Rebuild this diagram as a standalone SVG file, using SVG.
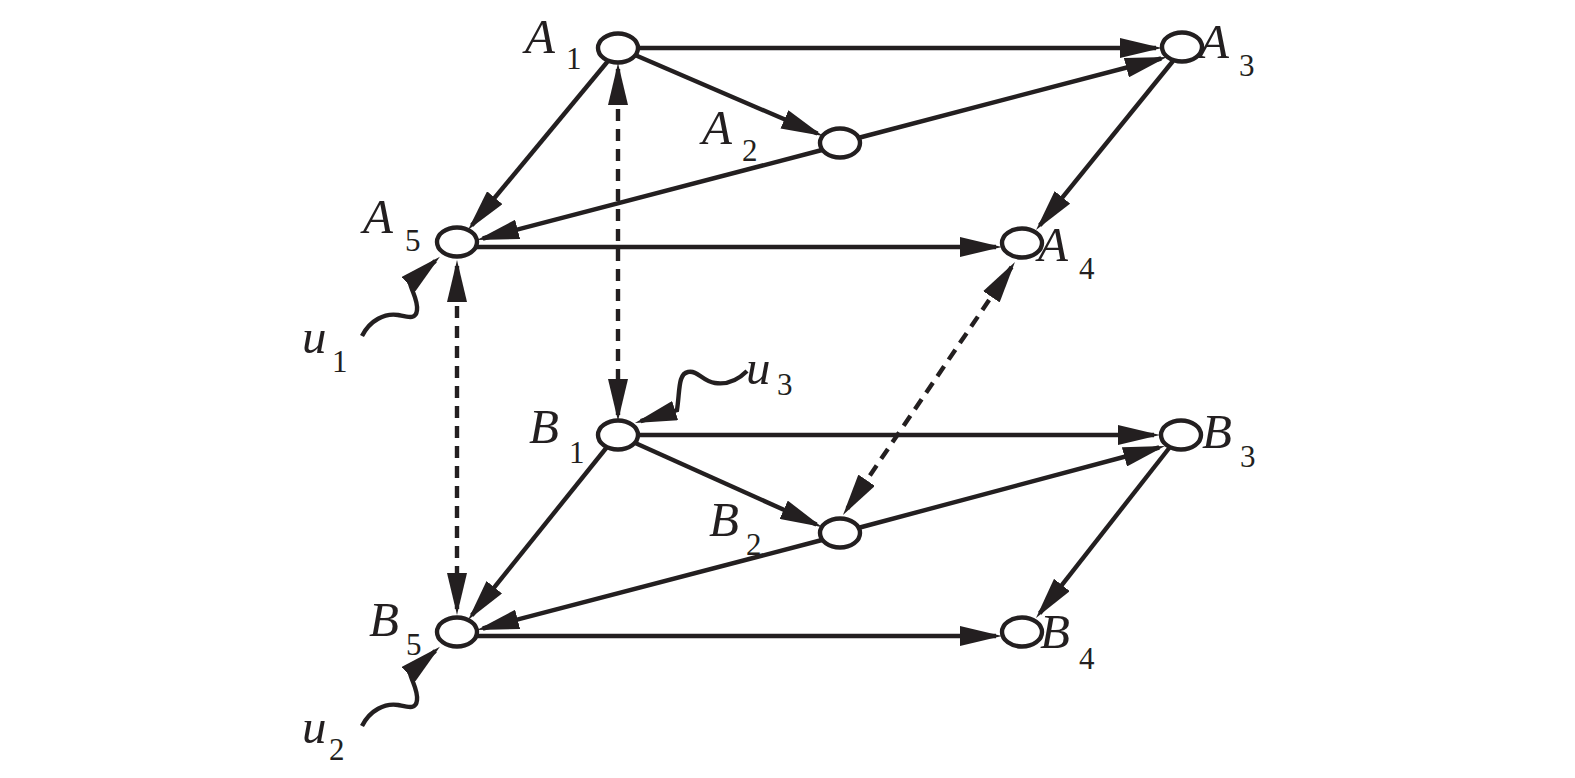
<svg xmlns="http://www.w3.org/2000/svg" width="1575" height="778" viewBox="0 0 1575 778">
<defs>
<marker id="ah" viewBox="0 0 42 20" refX="36" refY="10" markerWidth="42" markerHeight="20" markerUnits="userSpaceOnUse" orient="auto-start-reverse">
<path d="M0,0 L42,10 L0,20 z" fill="#231f20"/>
</marker>
</defs>
<style>
.e{fill:none;stroke:#231f20;stroke-width:4.4;marker-end:url(#ah)}
.d{fill:none;stroke:#231f20;stroke-width:4.4;stroke-dasharray:12 8;marker-start:url(#ah);marker-end:url(#ah)}
.n{fill:#fff;stroke:#231f20;stroke-width:4.4}
.l{font-family:"Liberation Serif","Times New Roman",serif;font-style:italic;font-size:49px;fill:#231f20}
.s{font-family:"Liberation Serif","Times New Roman",serif;font-size:31px;fill:#231f20}
</style>
<rect width="1575" height="778" fill="#fff"/>
<g id="connectors">
<path class="e" d="M638,48 L1156,48"/>
<path class="e" d="M635,55 L817.5,133.6"/>
<path class="e" d="M858,138 L1161.2,58.5"/>
<path class="e" d="M608,61 L471.8,225.4"/>
<path class="e" d="M822,150 L482.8,238.5"/>
<path class="e" d="M1173,61 L1039.8,225.3"/>
<path class="e" d="M477,247 L996,247"/>
<path class="d" d="M618,69 L618,415"/>
<path class="d" d="M457,266 L457,609"/>
<path class="d" d="M1011.6,267 L846.4,510"/>
<path class="e" d="M638,435 L1154,435"/>
<path class="e" d="M633,442 L816.5,524.5"/>
<path class="e" d="M858,528 L1159.2,447.5"/>
<path class="e" d="M607,447 L471.8,615.3"/>
<path class="e" d="M822,540 L482.8,628.5"/>
<path class="e" d="M1170,447 L1039.7,613.3"/>
<path class="e" d="M477,636 L996,636"/>
<path class="e" d="M362,336 C370,320 385,313 398,315 C408,317 416,320 417,310 C418,300 412,292 410,283 L435.4,260.8"/>
<path class="e" d="M362,726 C370,710 385,703 398,705 C408,707 416,710 417,700 C418,690 412,682 410,673 L435.4,650.8"/>
<path class="e" d="M747,371 C738,380 728,385 715,383 C702,381 698,370 688,372 C678,374 680,390 677,410 L640.7,421.2"/>
</g>
<g id="A1"><ellipse class="n" cx="618" cy="48" rx="20" ry="14.5"/><text class="l" x="525" y="53">A</text><text class="s" x="566" y="69">1</text></g>
<g id="A2"><ellipse class="n" cx="840" cy="143" rx="20" ry="14.5"/><text class="l" x="702" y="144">A</text><text class="s" x="742" y="161">2</text></g>
<g id="A3"><ellipse class="n" cx="1182" cy="47" rx="20" ry="14.5"/><text class="l" x="1199" y="58">A</text><text class="s" x="1239" y="76">3</text></g>
<g id="A4"><ellipse class="n" cx="1022" cy="243" rx="20" ry="14.5"/><text class="l" x="1038" y="261">A</text><text class="s" x="1079" y="279">4</text></g>
<g id="A5"><ellipse class="n" cx="457" cy="242" rx="20" ry="14.5"/><text class="l" x="363" y="233">A</text><text class="s" x="405" y="251">5</text></g>
<g id="B1"><ellipse class="n" cx="618" cy="435" rx="20" ry="14.5"/><text class="l" x="529" y="443">B</text><text class="s" x="569" y="463">1</text></g>
<g id="B2"><ellipse class="n" cx="840" cy="533" rx="20" ry="14.5"/><text class="l" x="709" y="536">B</text><text class="s" x="746" y="555">2</text></g>
<g id="B3"><ellipse class="n" cx="1181" cy="435" rx="20" ry="14.5"/><text class="l" x="1202" y="448">B</text><text class="s" x="1240" y="467">3</text></g>
<g id="B4"><ellipse class="n" cx="1022" cy="632" rx="20" ry="14.5"/><text class="l" x="1040" y="648">B</text><text class="s" x="1079" y="669">4</text></g>
<g id="B5"><ellipse class="n" cx="457" cy="632" rx="20" ry="14.5"/><text class="l" x="369" y="636">B</text><text class="s" x="406" y="655">5</text></g>
<g id="u1"><text class="l" x="302" y="353">u</text><text class="s" x="332" y="372">1</text></g>
<g id="u2"><text class="l" x="302" y="743">u</text><text class="s" x="329" y="760">2</text></g>
<g id="u3"><text class="l" x="746" y="384">u</text><text class="s" x="777" y="395">3</text></g>
</svg>
